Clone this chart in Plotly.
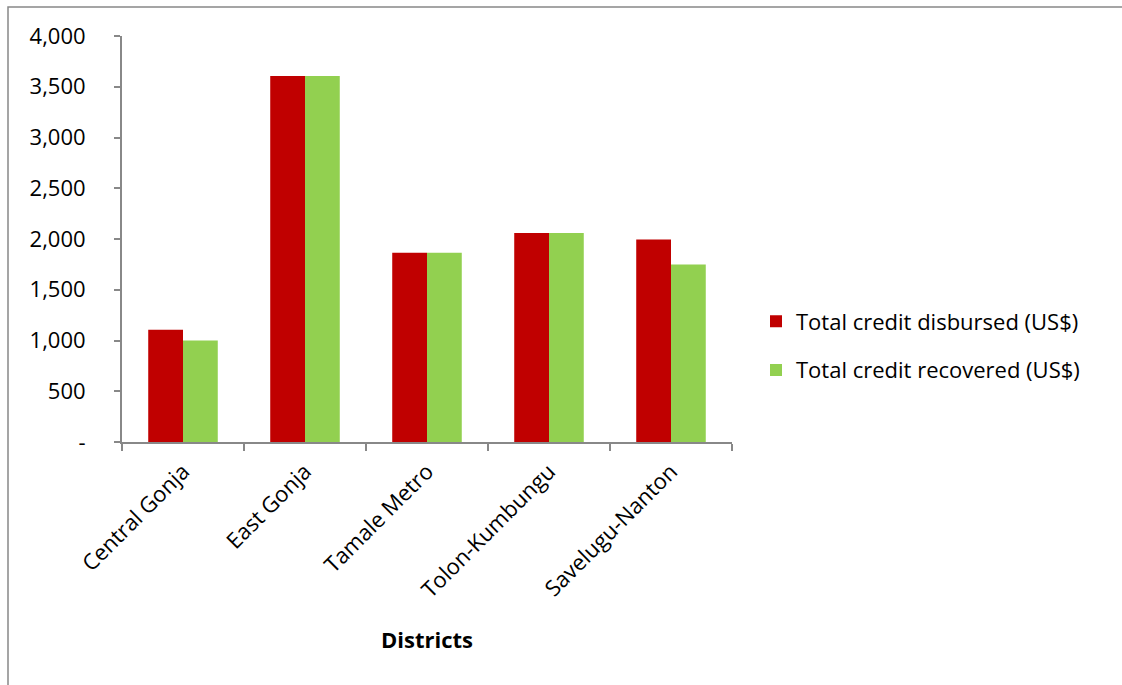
import plotly.graph_objects as go

districts = ["Central Gonja", "East Gonja", "Tamale Metro", "Tolon-Kumbungu", "Savelugu-Nanton"]
disbursed = [1105, 3605, 1865, 2060, 1995]
recovered = [1000, 3605, 1865, 2060, 1750]
ytick_vals = [0, 500, 1000, 1500, 2000, 2500, 3000, 3500, 4000]
ytick_text = ["-", "500", "1,000", "1,500", "2,000", "2,500", "3,000", "3,500", "4,000"]

FONT = "Open Sans"
FS = 22

fig = go.Figure()
fig.add_trace(go.Bar(x=districts, y=disbursed, name="Total credit disbursed (US$)",
                     marker=dict(color="#C00000", line=dict(width=0)), legendgroup="a"))
fig.add_trace(go.Bar(x=districts, y=recovered, name="Total credit recovered (US$)",
                     marker=dict(color="#92D050", line=dict(width=0)), legendgroup="b"))

W, H = 1122, 685
L, R, T, B = 122, 732, 36, 442
pw, ph = R - L, B - T

def px2x(p):
    return (p - L) / pw

def px2y(p):
    return (B - p) / ph

fig.update_layout(
    width=W, height=H,
    margin=dict(l=L, r=W - R, t=T, b=H - B, autoexpand=False),
    paper_bgcolor="white", plot_bgcolor="white",
    font=dict(family=FONT, size=FS, color="black"),
    barmode="group", bargap=0.43, bargroupgap=0,
    showlegend=True,
    legend=dict(x=px2x(756), y=px2y(346), xanchor="left", yanchor="middle",
                font=dict(size=FS, family=FONT), traceorder="grouped",
                tracegroupgap=17, bgcolor="rgba(0,0,0,0)"),
    xaxis=dict(type="category", showline=True, linecolor="#888888", linewidth=2,
               ticks="outside", tickson="boundaries", tickcolor="#888888", ticklen=7, tickwidth=2,
               tickangle=-45, tickfont=dict(size=FS, family=FONT), ticklabelstandoff=6,
               title=dict(text="<b>Districts</b>", font=dict(size=FS, family=FONT), standoff=30),
               showgrid=False, automargin=False),
    yaxis=dict(range=[0, 4000], tickvals=ytick_vals, ticktext=ytick_text,
               showline=True, linecolor="#888888", linewidth=2,
               ticks="outside", tickcolor="#888888", ticklen=6, tickwidth=2,
               tickfont=dict(size=FS, family=FONT), ticklabelstandoff=24,
               showgrid=False, zeroline=False, automargin=False),
    shapes=[dict(type="rect", xref="paper", yref="paper",
                 x0=px2x(8), x1=px2x(1130), y0=px2y(700), y1=px2y(7),
                 line=dict(color="#888888", width=1.5), fillcolor="rgba(0,0,0,0)", layer="below")],
)

fig.write_html("out.html")
